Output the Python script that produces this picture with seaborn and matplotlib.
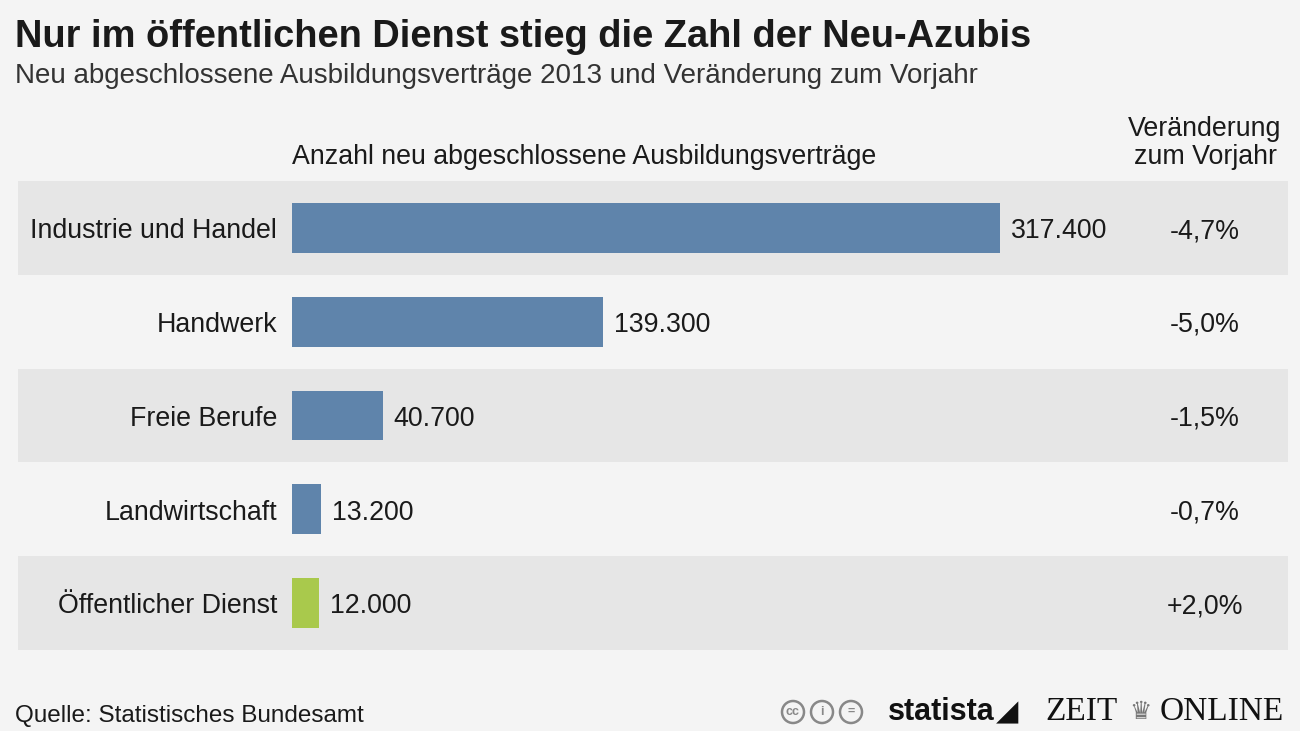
import numpy as np
import pandas as pd
import seaborn as sns
import matplotlib.pyplot as plt
from matplotlib.patches import Circle

# ==Data
categories = ["Industrie und Handel", "Handwerk", "Freie Berufe",
              "Landwirtschaft", "Öffentlicher Dienst"]
vertraege = [317400, 139300, 40700, 13200, 12000]
value_labels = ["317.400", "139.300", "40.700", "13.200", "12.000"]
change_labels = ["-4,7%", "-5,0%", "-1,5%", "-0,7%", "+2,0%"]
bar_group = ["blau", "blau", "blau", "blau", "gruen"]

BG = "#f4f4f4"
BAND = "#e6e6e6"
BLUE = "#5f84ab"
GREEN = "#a9c94c"
TXT = "#1a1a1a"

W, H = 1300, 731
sns.set_theme(style="white")
plt.rcParams['font.family'] = ['Liberation Sans', 'DejaVu Sans']

fig = plt.figure(figsize=(W / 100, H / 100), dpi=100, facecolor=BG)

# axes covers the band area (pixels 18..1288 x 181..650)
ax = fig.add_axes([18 / W, 1 - 650 / H, 1270 / W, 469 / H])
ax.set_facecolor(BG)

df = pd.DataFrame({"cat": categories, "val": vertraege, "grp": bar_group})

# alternating bands
for i in range(len(categories)):
    if i % 2 == 0:
        ax.axhspan(i - 0.5, i + 0.5, color=BAND, zorder=0, lw=0)

sns.barplot(data=df, x="val", y="cat", hue="grp", orient="h",
            palette={"blau": BLUE, "gruen": GREEN}, width=0.53,
            dodge=False, legend=False, ax=ax, zorder=2, saturation=1,
            linewidth=0)

# x scale: 0 at px 292, 317400 at px 1000
px_per_unit = 708 / 317400
ax.set_xlim(-(292 - 18) / px_per_unit, (1288 - 292) / px_per_unit)
ax.set_ylim(len(categories) - 0.5, -0.5)
ax.set_axis_off()

FS = 19.3
label_x = -(292 - 277) / px_per_unit
change_x = (1205 - 292) / px_per_unit
dy = 0.035
for i, (cat, v, vl, cl) in enumerate(zip(categories, vertraege, value_labels, change_labels)):
    ax.text(label_x, i + dy, cat, ha="right", va="center", fontsize=FS, color=TXT)
    ax.text(v + 11 / px_per_unit, i + dy, vl, ha="left", va="center", fontsize=FS, color=TXT)
    ax.text(change_x, i + dy, cl, ha="center", va="center", fontsize=FS, color=TXT)

# titles & headers
fig.text(15 / W, 1 - 37 / H, "Nur im öffentlichen Dienst stieg die Zahl der Neu-Azubis",
         fontsize=27.4, fontweight="bold", color=TXT, va="center")
fig.text(15 / W, 1 - 76 / H, "Neu abgeschlossene Ausbildungsverträge 2013 und Veränderung zum Vorjahr",
         fontsize=20, color="#333333", va="center")
fig.text(292 / W, 1 - 157 / H, "Anzahl neu abgeschlossene Ausbildungsverträge",
         fontsize=FS, color=TXT, va="center")
fig.text(1205 / W, 1 - 143 / H, "Veränderung\nzum Vorjahr", fontsize=FS, color=TXT,
         ha="center", va="center", linespacing=1.1)

# footer
fig.text(15 / W, 1 - 716 / H, "Quelle: Statistisches Bundesamt", fontsize=17.5,
         color=TXT, va="center")
for cx, sym in zip([793, 822, 851], ["cc", "i", "="]):
    fig.add_artist(Circle((cx / 100, (H - 712) / 100), 0.11, transform=fig.dpi_scale_trans,
                          fill=False, ec="#888888", lw=1.8))
    fig.text(cx / W, 1 - 712 / H, sym, fontsize=9, color="#888888", ha="center",
             va="center", fontweight="bold")
fig.text(888 / W, 1 - 712 / H, "statista", fontsize=22, fontweight="bold",
         color="#111111", va="center", family=["Liberation Sans Narrow", "Liberation Sans"])
fig.text(996 / W, 1 - 712 / H, "◢", fontsize=21, color="#111111", va="center",
         family=["DejaVu Sans"])
fig.text(1045 / W, 1 - 712 / H, "ZEIT", fontsize=24, color="#111111", va="center",
         family=["Liberation Serif"])
fig.text(1140 / W, 1 - 712 / H, "♛", fontsize=18, color="#777777", va="center",
         ha="center", family=["DejaVu Sans"])
fig.text(1160 / W, 1 - 712 / H, "ONLINE", fontsize=24, color="#111111", va="center",
         family=["Liberation Serif"])

fig.savefig("out.png", dpi=100, facecolor=BG)
